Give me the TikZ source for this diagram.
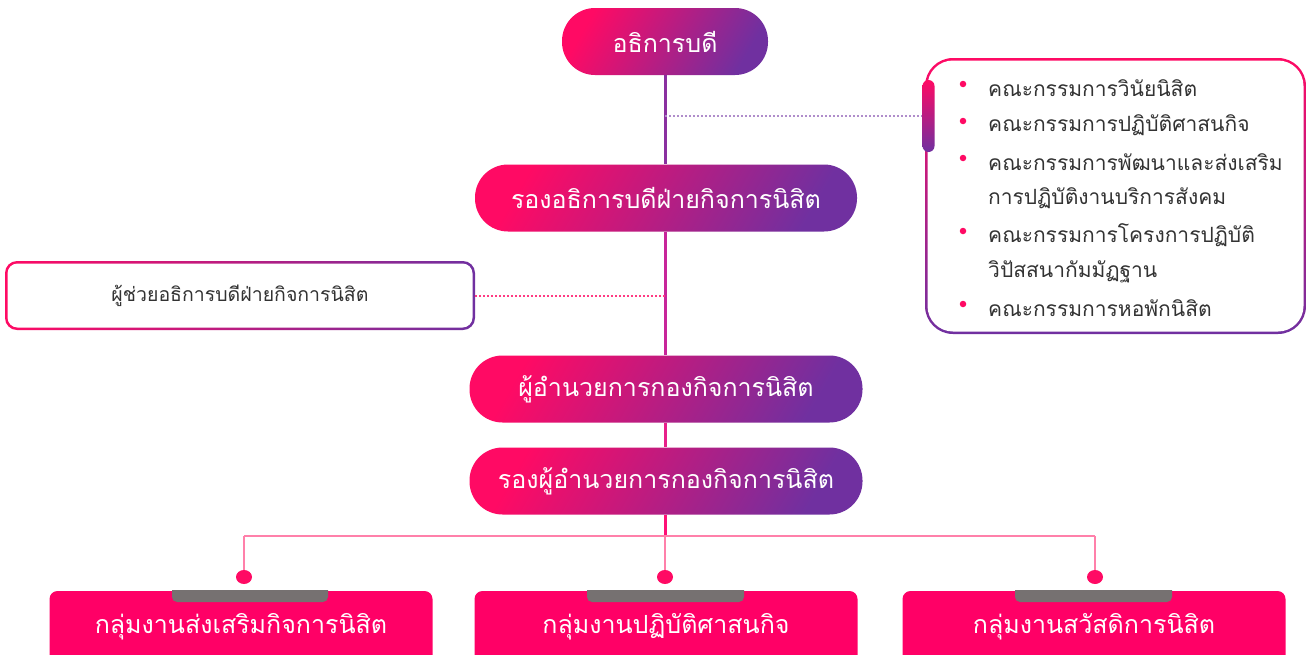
\documentclass[tikz,border=0pt]{standalone}
\usepackage{fontspec}
\setmainfont[Script=Thai]{Loma}
\usetikzlibrary{calc,shapes.geometric}
\definecolor{pk}{HTML}{FF0A64}
\definecolor{pu}{HTML}{7030A0}
\definecolor{hot}{HTML}{FF0066}
\definecolor{lpk}{HTML}{FF80AA}
\definecolor{tabgray}{HTML}{767171}
\definecolor{txt}{HTML}{333333}
\definecolor{seg1}{HTML}{8A30A0}
\definecolor{seg2}{HTML}{C8259A}
\definecolor{seg3}{HTML}{E8208A}
\definecolor{seg4}{HTML}{FF1077}
\tikzset{
  pill/.style={rectangle, rounded corners=33pt, minimum height=67pt, text=white,
    font=\fontsize{25}{29}\selectfont, left color=pk, right color=pu, shading angle=60, inner sep=0pt},
  grpbox/.style={rectangle, rounded corners=8pt, minimum width=383pt, minimum height=72pt,
    fill=hot, text=white, font=\fontsize{25}{29}\selectfont, inner sep=0pt},
  bl/.style={circle, fill=pk, inner sep=0pt, minimum size=6.5pt},
  item/.style={anchor=west, text=txt, font=\fontsize{21}{25}\selectfont, inner sep=0pt},
  dot/.style={ellipse, fill=pk, inner sep=0pt, minimum width=16pt, minimum height=14pt},
  vline/.style={line width=3pt},
  dots/.style={line width=2pt, dash pattern=on 2pt off 2pt}
}
\begin{document}
\begin{tikzpicture}[x=1pt,y=-1pt]
\clip (0,0) rectangle (1308,654);
\fill[white] (0,0) rectangle (1308,654);

% pills
\node[pill, minimum width=206pt] (p1) at (665,41.5) {อธิการบดี};
\node[pill, minimum width=382pt] (p2) at (666,198) {รองอธิการบดีฝ่ายกิจการนิสิต};
\node[pill, minimum width=393pt] (p3) at (666,389) {ผู้อำนวยการกองกิจการนิสิต};
\node[pill, minimum width=393pt] (p4) at (666,481) {รองผู้อำนวยการกองกิจการนิสิต};

% right committee box
\node[rectangle, rounded corners=28pt, minimum width=381pt, minimum height=276pt,
  top color=pk, bottom color=pu, inner sep=0pt] (cb) at (1115.5,196) {};
\node[rectangle, rounded corners=25.5pt, minimum width=376pt, minimum height=271pt,
  fill=white, inner sep=0pt] at (cb) {};
\node[rectangle, rounded corners=6pt, minimum width=12pt, minimum height=72pt,
  top color=pk, bottom color=pu, inner sep=0pt] (tab) at (928.5,116) {};
\coordinate (tabw) at (tab.west);

\node[bl] at (963,84) {};
\node[item] (i1) at (988,88) {คณะกรรมการวินัยนิสิต};
\node[bl] at (963,121) {};
\node[item] (i2) at (988,125) {คณะกรรมการปฏิบัติศาสนกิจ};
\node[bl] at (963,158) {};
\node[item] (i3) at (988,162) {คณะกรรมการพัฒนาและส่งเสริม};
\node[item] (i4) at (988,198) {การปฏิบัติงานบริการสังคม};
\node[bl] at (963,231) {};
\node[item] (i5) at (988,235) {คณะกรรมการโครงการปฏิบัติ};
\node[item] (i6) at (988,272) {วิปัสสนากัมมัฏฐาน};
\node[bl] at (963,304) {};
\node[item] (i7) at (988,308) {คณะกรรมการหอพักนิสิต};

% left assistant box
\node[rectangle, rounded corners=12pt, minimum width=470pt, minimum height=69pt,
  left color=pk, right color=pu, inner sep=0pt] (ab) at (240,295.5) {};
\node[rectangle, rounded corners=10pt, minimum width=465pt, minimum height=64pt,
  fill=white, inner sep=0pt, text=txt, font=\fontsize{19.5}{23}\selectfont] (abt) at (ab) {ผู้ช่วยอธิการบดีฝ่ายกิจการนิสิต};

% main spine
\coordinate (j1) at (665,116);
\coordinate (j2) at (665,295.5);
\coordinate (hub) at (665,536);
\draw[vline, seg1] (p1.south -| j1) -- (p2.north -| j1);
\draw[vline, seg2] (p2.south -| j1) -- (p3.north -| j1);
\draw[vline, seg3] (p3.south -| j1) -- (p4.north -| j1);
\draw[vline, seg4] (p4.south -| j1) -- (hub);

\draw[dots, color=pu!55!white] (j1) -- (tabw);
\draw[dots, color=pk!80!white] (ab.east) -- (j2);

% bottom groups
\node[grpbox] (g1) at (241,627) {กลุ่มงานส่งเสริมกิจการนิสิต};
\node[grpbox] (g2) at (666,627) {กลุ่มงานปฏิบัติศาสนกิจ};
\node[grpbox] (g3) at (1094,627) {กลุ่มงานสวัสดิการนิสิต};

\begin{scope}
  \clip (g1.north west) rectangle (g1.south east);
  \fill[tabgray, rounded corners=5pt] (172,580) rectangle (328,602);
\end{scope}
\begin{scope}
  \clip (g2.north west) rectangle (g2.south east);
  \fill[tabgray, rounded corners=5pt] (587,580) rectangle (744,602);
\end{scope}
\begin{scope}
  \clip (g3.north west) rectangle (g3.south east);
  \fill[tabgray, rounded corners=5pt] (1015,580) rectangle (1172,602);
\end{scope}

\node[dot] (d1) at (244,577) {};
\node[dot] (d2) at (665,577) {};
\node[dot] (d3) at (1095,577) {};

\draw[lpk, line width=1.6pt] (d1 |- hub) -- (d3 |- hub);
\draw[lpk, line width=1.6pt] (d1 |- hub) -- (d1.north);
\draw[lpk, line width=1.6pt] (hub) -- (d2.north);
\draw[lpk, line width=1.6pt] (d3 |- hub) -- (d3.north);
\end{tikzpicture}
\end{document}
